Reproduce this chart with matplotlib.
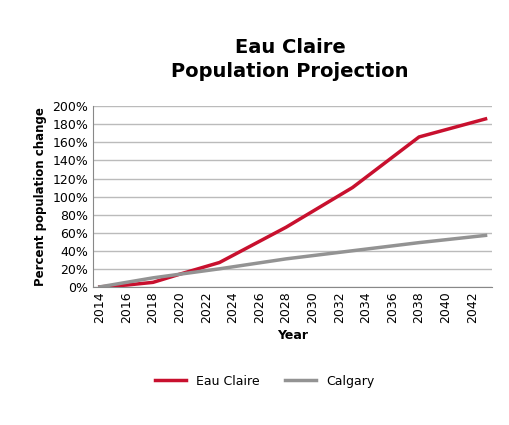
import matplotlib.pyplot as plt
from matplotlib.ticker import PercentFormatter

years = [2014, 2016, 2018, 2020, 2023, 2028, 2033, 2038, 2043]
eau_claire = [0, 2, 5, 14, 27, 66, 110, 166, 186]
calgary = [0, 5, 10, 14, 20, 31, 40, 49, 57]
tick_years = list(range(2014, 2043, 2))

fig = plt.figure(figsize=(5.09, 4.25), dpi=100)
ax = fig.add_axes([0.183, 0.325, 0.784, 0.425])
ax.plot(years, eau_claire, color="#c8102e", lw=2.5, label="Eau Claire")
ax.plot(years, calgary, color="#939393", lw=2.5, label="Calgary")
ax.set_xlim(2013.5, 2043.5)
ax.set_ylim(0, 200)
ax.set_yticks(range(0, 201, 20))
ax.yaxis.set_major_formatter(PercentFormatter(decimals=0))
ax.set_xticks(tick_years)
ax.set_xticklabels([str(y) for y in tick_years])
ax.tick_params(labelsize=9, length=0)
plt.setp(ax.get_xticklabels(), rotation=90)
ax.grid(axis="y", color="#bbbbbb", lw=1)
ax.set_axisbelow(True)
for s in ["top", "right"]:
    ax.spines[s].set_visible(False)
ax.spines["left"].set_color("#888888")
ax.spines["bottom"].set_color("#888888")
ax.set_xlabel("Year", fontweight="bold", fontsize=9)
ax.set_ylabel("Percent population change", fontweight="bold", fontsize=8.5)
fig.text(0.57, 0.86, "Eau Claire\nPopulation Projection", ha="center", va="center",
         fontsize=14, fontweight="bold", linespacing=1.35)
fig.legend(loc="center", bbox_to_anchor=(0.52, 0.103), ncol=2, frameon=False,
           fontsize=9, handlelength=2.5)
fig.savefig("out.png", dpi=100)
